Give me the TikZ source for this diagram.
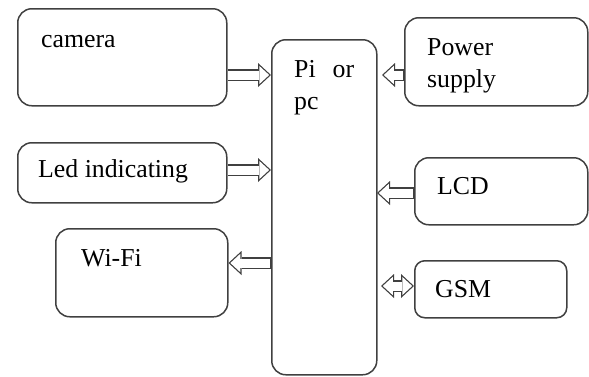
\documentclass[tikz,border=0pt]{standalone}
\usepackage{fontspec}
\setmainfont{Liberation Serif}
\usetikzlibrary{arrows.meta,positioning}
\definecolor{BoxEdge}{HTML}{404040}

\begin{document}
\begin{tikzpicture}[
  x=1pt, y=-1pt,
  unit/.style={draw=BoxEdge, line width=1.5pt, rounded corners=14pt, anchor=north west, inner sep=0pt},
  tag/.style={anchor=base west, inner sep=0pt, align=left, font=\fontsize{25.8}{32}\selectfont},
  % hollow block arrow: dark body, then a white body on top
  link/.style={draw=BoxEdge, line width=11.5pt,
    -{Triangle[length=13pt, width=24pt, line width=0pt]},
    postaction={draw=white, line width=9pt, shorten <=0.8pt, shorten >=1.85pt,
      -{Triangle[length=9.9pt, width=18.3pt, line width=0pt]}}},
  duplex/.style={draw=BoxEdge, line width=11.5pt,
    {Triangle[length=13pt, width=24pt, line width=0pt]}-{Triangle[length=13pt, width=24pt, line width=0pt]},
    postaction={draw=white, line width=9pt, shorten <=1.85pt, shorten >=1.85pt,
      {Triangle[length=9.9pt, width=18.3pt, line width=0pt]}-{Triangle[length=9.9pt, width=18.3pt, line width=0pt]}}}
]
  \useasboundingbox (0,0) rectangle (589,376);

  % blocks
  \node[unit, minimum width=209pt, minimum height=97pt] (camera) at (17,8) {};
  \node[unit, minimum width=209pt, minimum height=60pt] (led) at (17,142) {};
  \node[unit, minimum width=172pt, minimum height=88pt] (wifi) at (55,228) {};
  \node[unit, minimum width=105pt, minimum height=335pt] (pi) at (271,39) {};
  \node[unit, minimum width=183pt, minimum height=88pt] (power) at (404,17) {};
  \node[unit, minimum width=173pt, minimum height=67pt] (lcd) at (414,157) {};
  \node[unit, minimum width=152pt, minimum height=57pt, rounded corners=10pt] (gsm) at (414,260) {};

  % labels (two-line ones sit on the baseline of their last line)
  \node[tag] (cameratxt) at (41,47) {camera};
  \node[tag] (ledtxt) at (38,177) {Led indicating};
  \node[tag] (wifitxt) at (81,266) {Wi-Fi};
  \node[tag] (pitxt) at (294,109) {Pi\hspace{17pt}or\\pc};
  \node[tag] (powertxt) at (427,87) {Power\\supply};
  \node[tag] (lcdtxt) at (437,194) {LCD};
  \node[tag] (gsmtxt) at (435,297) {GSM};

  % connections
  \coordinate (pw) at (382,75);
  \coordinate (lc) at (377,193);
  \coordinate (gs) at (381,286);
  \draw[link] (camera.east |- 0,75) -- (pi.west |- 0,75);
  \draw[link] (led.east |- 0,170) -- (pi.west |- 0,170);
  \draw[link] (pi.west |- 0,263) -- (wifi.east |- 0,263);
  \draw[link] (power.west |- pw) -- (pw);
  \draw[link] (lcd.west |- lc) -- (lc);
  \draw[duplex] (gs) -- (gsm.west |- gs);
\end{tikzpicture}
\end{document}
